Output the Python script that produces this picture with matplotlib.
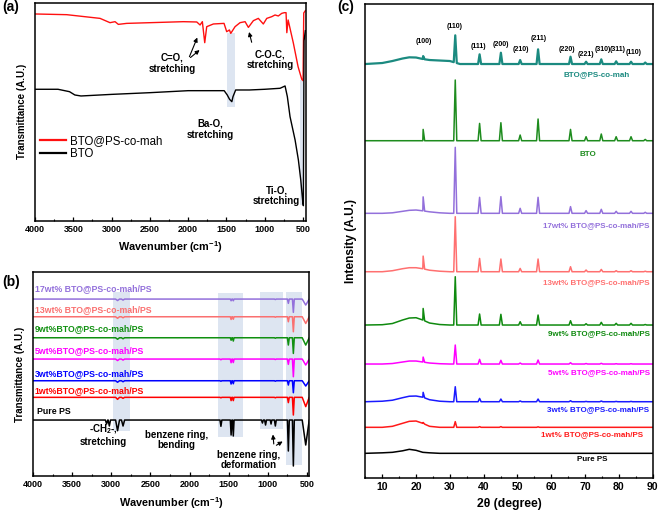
import numpy as np
import matplotlib
matplotlib.use("Agg")
import matplotlib.pyplot as plt
from matplotlib.ticker import MultipleLocator

plt.rcParams['font.family'] = ['Liberation Sans', 'DejaVu Sans']
plt.rcParams['mathtext.fontset'] = 'custom'
plt.rcParams['mathtext.bf'] = 'Liberation Sans:bold'
plt.rcParams['mathtext.rm'] = 'Liberation Sans:bold'
plt.rcParams['mathtext.default'] = 'bf'

# ---- (a) FTIR of BTO and BTO@PS-co-mah ----
wn_red = [4000, 3586, 3151, 3021, 2955, 2912, 2803, 2498, 2063, 1888, 1845, 1815,
          1784, 1758, 1671, 1532, 1497, 1462, 1444, 1388, 1323, 1257, 1214, 1149,
          1084, 1019, 974, 909, 866, 823, 779, 745, 722, 712, 695, 627, 565, 517,
          500, 491, 470]
t_red = [206.7, 206, 202.3, 198, 199, 196.3, 197.3, 198, 199, 198.7, 195.7, 199,
         178, 194, 196.7, 197.3, 189, 190.7, 187.3, 194, 198, 199, 193.3, 200,
         202.3, 196.7, 202.3, 204, 205.7, 204.7, 207.3, 208, 208, 188, 200.7, 177.7,
         154, 141.4, 140, 207.7, 210]
wn_bto = [4000, 3700, 3550, 3480, 3400, 3000, 2500, 2000, 1530, 1490, 1460, 1430,
          1415, 1380, 1200, 1000, 800, 735, 705, 670, 604, 561, 530, 504, 496, 487, 470]
t_bto = [131.4, 131.4, 129, 125.7, 124.7, 126.3, 128, 130, 130, 125.7, 121.4, 119,
         124, 130.7, 130.7, 131.4, 132.4, 134.7, 124, 104, 80.7, 60.7, 40.7, 19, 15,
         180, 190]

# ---- (b) FTIR of PS composites ----
dip_pos = [3060, 3025, 2920, 2850, 1600, 1470, 1442, 1070, 1030, 960, 905, 739, 675, 517]
dip_hw = [15, 15, 25, 20, 12, 10, 10, 12, 12, 10, 12, 12, 12, 45]
b_names = ['17wt% BTO@PS-co-mah/PS', '13wt% BTO@PS-co-mah/PS', '9wt%BTO@PS-co-mah/PS',
           '5wt%BTO@PS-co-mah/PS', '3wt%BTO@PS-co-mah/PS', '1wt%BTO@PS-co-mah/PS', 'Pure PS']
b_colors = ['#9370db', '#fa7070', '#109010', '#ff00ff', '#0000ff', '#ff0000', 'black']
b_base = [177, 159.3, 138.3, 117, 95.3, 78.7, 56]
b_label_y = [187.7, 167, 147, 125.3, 102.7, 85, 64.3]
d17 = [0, 0, 1.5, 1, 0, 1.7, 1.7, 0, 0, 0, 0.5, 4.3, 13.3, 6]
d13 = [0, 0, 1.5, 1, 0, 2.7, 2.5, 0, 0, 0, 0.5, 5, 15, 6.7]
d9 = [0, 0, 1.5, 1, 0, 2.5, 3.3, 0, 0, 0, 0.5, 7.3, 15.7, 7.3]
d5 = [0, 0, 1.5, 1, 0.7, 3.7, 3.5, 0, 0, 0, 0.5, 5.3, 17.7, 6]
d3 = [0, 0, 1.5, 1, 0.5, 3.3, 3, 0, 0, 0, 0.5, 4.3, 12, 5.3]
d1 = [0, 0, 2, 1, 0.5, 3.3, 3.3, 0, 0, 0, 0.5, 5.3, 17.7, 9.3]
d_ps = [4, 6, 10.7, 6, 6.3, 15, 16, 3, 5, 4, 6, 31, 46, 25]
b_depths = [d17, d13, d9, d5, d3, d1, d_ps]

# ---- (c) XRD ----
peak_pos = [22.1, 31.6, 38.8, 45.1, 50.8, 56.1, 65.7, 70.3, 74.8, 79.2, 83.6, 87.8]
hkl = ['(100)', '(110)', '(111)', '(200)', '(210)', '(211)', '(220)', '(221)',
       '(310)', '(311)', '(110)']
hkl_x = [22.3, 31.5, 38.4, 45.1, 50.9, 56.4, 64.7, 70.2, 75.2, 79.6, 84.5]
hkl_y = [436.3, 452, 432, 433.7, 428.7, 439.7, 428.7, 424, 429, 429, 425.7]
hump_x = [5, 10, 13, 16, 18, 20, 22, 24, 27, 30, 33, 90]
c_names = ['BTO@PS-co-mah', 'BTO', '17wt% BTO@PS-co-mah/PS', '13wt% BTO@PS-co-mah/PS',
           '9wt% BTO@PS-co-mah/PS', '5wt% BTO@PS-co-mah/PS', '3wt% BTO@PS-co-mah/PS',
           '1wt% BTO@PS-co-mah/PS', 'Pure PS']
c_colors = ['#1b8a80', '#1e8c1e', '#9370db', '#ff7070', '#0f8a0f', '#ff00ff',
            '#1a1aff', '#ff1a1a', 'black']
c_base = [414, 337.3, 264.7, 206.3, 153, 114, 76.3, 50.7, 24.7]
c_heights = [
    [3, 27.3, 9.7, 11.3, 4, 14.7, 7.3, 2.3, 4.7, 2.7, 2.3, 1.5],
    [11.3, 60.7, 17.3, 18, 5.7, 21.7, 11.3, 4, 6.7, 4, 4, 1.3],
    [14, 66, 16, 16.7, 5, 16, 6.7, 2.7, 4, 2, 2, 1],
    [12.7, 55, 13.3, 12.7, 3.3, 12.7, 5, 1.7, 2.3, 1, 1, 0.5],
    [11.7, 48.3, 11, 10.7, 3.3, 10, 4.3, 1.3, 2.7, 1.7, 1.7, 0.5],
    [5, 19, 4.7, 3.7, 1, 4, 1.3, 0.5, 0.7, 0.3, 0.3, 0],
    [5, 15, 3.3, 2.7, 0.8, 2.7, 1, 0.3, 0.7, 0.3, 0.3, 0],
    [1, 5.7, 0.7, 0.7, 0, 0.5, 0, 0, 0, 0, 0, 0],
    [0, 0, 0, 0, 0, 0, 0, 0, 0, 0, 0, 0],
]
c_humps = [
    [0, 1, 3, 5.5, 6.7, 6.5, 5, 4, 3.5, 3, 0, 0],
    [0, 0, 0, 0, 0, 0, 0, 0, 0, 0, 0, 0],
    [0, 0, 0.5, 2, 3, 3.3, 2.5, 1.5, 0.5, 0, 0, 0],
    [0, 0, 1, 3, 4, 4, 3, 1.5, 0.5, 0, 0, 0],
    [0, 0.3, 1.5, 5, 7, 7.3, 5, 2, 0.5, 0, 0, 0],
    [0, 0, 0.5, 2, 3, 3, 2, 1, 0.3, 0, 0, 0],
    [0, 0.5, 1.5, 4, 5.5, 5.7, 4.5, 2, 0.5, 0, 0, 0],
    [0, 0, 1, 4, 6, 6.3, 4, 1, 0, 0, 0, 0],
    [0, 0.5, 1, 2.5, 4, 3, 1, 0.5, 0, 0, 0, 0],
]
c_label_x = [73.4, 70.9, 89.2, 89.1, 89.2, 89.2, 89.1, 87.2, 72]
c_label_y = [403.3, 324, 252.7, 195.7, 144.7, 105.3, 68, 43, 19]
c_label_ha = ['center', 'center', 'right', 'right', 'right', 'right', 'right', 'right', 'center']

shade = '#dde5f1'

fig = plt.figure(figsize=(6.61, 5.15), dpi=100)
ax_a = fig.add_axes([0.053, 0.5715, 0.410, 0.4233])
ax_b = fig.add_axes([0.0499, 0.0757, 0.4176, 0.396])
ax_c = fig.add_axes([0.5522, 0.0718, 0.4357, 0.9204])


def style_ir(ax, fs):
    ax.xaxis.set_major_locator(MultipleLocator(500))
    ax.xaxis.set_minor_locator(MultipleLocator(250))
    ax.tick_params(axis='x', which='major', direction='in', length=3, width=0.9,
                   labelsize=fs, pad=3)
    ax.tick_params(axis='x', which='minor', direction='in', length=1.8, width=0.8)
    ax.set_yticks([])
    for lbl in ax.get_xticklabels():
        lbl.set_fontweight('bold')
    for s in ax.spines.values():
        s.set_linewidth(1.1)


# (a)
ax_a.axvspan(1388, 1497, ymin=0.523, ymax=0.859, color=shade, lw=0)
ax_a.axvspan(487, 539, ymin=0.072, ymax=0.645, color=shade, lw=0)
ax_a.plot(wn_red, t_red, color='#ff1010', lw=1.0, label='BTO@PS-co-mah')
ax_a.plot(wn_bto, t_bto, color='black', lw=1.0, label='BTO')
ax_a.set_xlim(4000, 461)
ax_a.set_ylim(0, 218)
style_ir(ax_a, 6.5)
ax_a.set_xlabel('Wavenumber (cm$^{-1}$)', fontsize=7.8, fontweight='bold', labelpad=4)
ax_a.set_ylabel('Transmittance (A.U.)', fontsize=7, fontweight='bold', labelpad=6)
leg = ax_a.legend(loc='upper left', bbox_to_anchor=(0.018, 0.393), frameon=False,
                  fontsize=8.3, handlelength=2.3, handletextpad=0.3,
                  labelspacing=0.1, borderpad=0, borderaxespad=0)
for h in leg.get_lines():
    h.set_linewidth(1.6)
ann = dict(fontsize=7, fontweight='bold', ha='center', va='center', linespacing=1.1)
ax_a.text(2211, 157.4, 'C=O,\nstretching', **ann)
ax_a.text(931, 160.7, 'C-O-C,\nstretching', **ann)
ax_a.text(1706, 91.4, 'Ba-O,\nstretching', **ann)
ax_a.text(844, 24.7, 'Ti-O,\nstretching', **ann)
arw = dict(arrowstyle='-|>', color='black', lw=0.8, mutation_scale=6)
ax_a.annotate('', xy=(1867, 185.7), xytext=(1998, 161.4), arrowprops=arw)
ax_a.annotate('', xy=(1823, 172.4), xytext=(1998, 161.4), arrowprops=arw)
ax_a.annotate('', xy=(1214, 191.4), xytext=(1162, 175.7), arrowprops=arw)

# (b)
for lo, hi, bot, top in [(2761, 2982, 45, 184), (1318, 1637, 39.3, 183.3),
                         (811, 1101, 47, 184), (568, 768, 11, 184)]:
    ax_b.fill_between([lo, hi], bot, top, color=shade, lw=0)

for name, col, base, deps, ly in zip(b_names, b_colors, b_base, b_depths, b_label_y):
    pts = [(4000, base), (470, base)]
    for p, hw, d in zip(dip_pos, dip_hw, deps):
        if d > 0:
            pts += [(p + hw, base), (p, base - d), (p - hw, base)]
    pts.sort(key=lambda q: -q[0])
    xs, ys = zip(*pts)
    ax_b.plot(xs, ys, color=col, lw=1.1)
    lx = 0.016 if name == 'Pure PS' else 0.007
    ax_b.text(lx, ly, name, color=col, fontsize=6.3, fontweight='bold',
              ha='left', va='center', transform=ax_b.get_yaxis_transform())

ax_b.set_xlim(4000, 475)
ax_b.set_ylim(0, 204)
style_ir(ax_b, 6.5)
ax_b.set_xlabel('Wavenumber (cm$^{-1}$)', fontsize=7.8, fontweight='bold', labelpad=4)
ax_b.set_ylabel('Transmittance (A.U.)', fontsize=7, fontweight='bold', labelpad=6)
ax_b.text(3102, 41, '-CH$_2$-,\nstretching', **ann)
ax_b.text(2165, 36, 'benzene ring,\nbending', **ann)
ax_b.text(1250, 16, 'benzene ring,\ndeformation', **ann)
ax_b.annotate('', xy=(939, 44.3), xytext=(922, 29.3), arrowprops=arw)
ax_b.annotate('', xy=(781, 36), xytext=(922, 29.3), arrowprops=arw)

# (c)
for i, name in enumerate(c_names):
    base = c_base[i]
    xs = list(hump_x)
    for p in peak_pos:
        xs += [p - 0.45, p, p + 0.45]
    xs = np.array(sorted(xs))
    ys = base + np.interp(xs, hump_x, c_humps[i])
    for p, h in zip(peak_pos, c_heights[i]):
        ys[np.isclose(xs, p)] += h
    lw = 1.6 if i == 0 else 1.1
    ax_c.plot(xs, ys, color=c_colors[i], lw=lw)
    ax_c.text(c_label_x[i], c_label_y[i], name, color=c_colors[i], fontsize=5.8,
              fontweight='bold', ha=c_label_ha[i], va='center')

for t, x, y in zip(hkl, hkl_x, hkl_y):
    ax_c.text(x, y, t, fontsize=5.0, fontweight='bold', ha='center', va='center')

ax_c.set_xlim(4.9, 90.1)
ax_c.set_ylim(0, 474)
ax_c.xaxis.set_major_locator(MultipleLocator(10))
ax_c.xaxis.set_minor_locator(MultipleLocator(5))
ax_c.tick_params(axis='x', which='major', direction='in', length=3, width=0.9,
                 labelsize=7.5, pad=3)
ax_c.tick_params(axis='x', which='minor', direction='in', length=1.8, width=0.8)
ax_c.set_yticks([])
for lbl in ax_c.get_xticklabels():
    lbl.set_fontweight('bold')
for s in ax_c.spines.values():
    s.set_linewidth(1.1)
ax_c.set_xlabel('2θ (degree)', fontsize=8.8, fontweight='bold', labelpad=4)
ax_c.set_ylabel('Intensity (A.U.)', fontsize=8.6, fontweight='bold', labelpad=6)

fig.text(2 / 661, 1 - 7 / 515, '(a)', fontsize=10, fontweight='bold', va='center')
fig.text(2 / 661, 1 - 282 / 515, '(b)', fontsize=10, fontweight='bold', va='center')
fig.text(337 / 661, 1 - 7 / 515, '(c)', fontsize=10, fontweight='bold', va='center')

fig.savefig('out.png', dpi=100)
